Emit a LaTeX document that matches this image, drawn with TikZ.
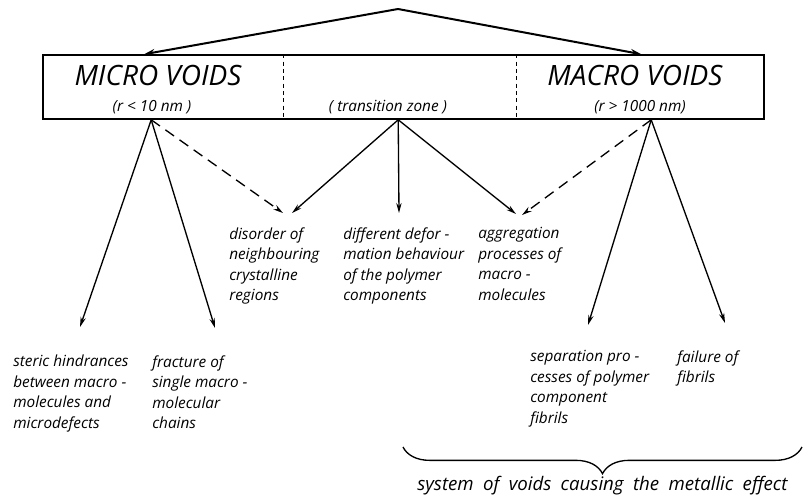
\documentclass[tikz,border=0pt]{standalone}
\usepackage{fontspec}
\setmainfont{Open Sans}
\usepackage{tikz}
\usetikzlibrary{calc}
\usetikzlibrary{arrows.meta}
\usetikzlibrary{decorations.pathreplacing}

\begin{document}
\begin{tikzpicture}[x=0.75pt,y=-0.75pt,
every node/.style={font=\itshape\fontsize{11.5}{15.4}\selectfont},
txt/.style={anchor=north west,align=left,inner sep=0pt},
big/.style={font=\itshape\fontsize{21}{24}\selectfont},
-->/.style={-{Stealth[length=7.5pt,width=4pt]},line width=1pt},
dashed-->/.style={-{Stealth[length=7.5pt,width=4pt]},line width=1pt,dash pattern=on 8pt off 5pt},
toparrow/.style={-{Stealth[length=8pt,width=5pt]},line width=1.5pt},
]
\useasboundingbox (0,0) rectangle (805,500);

\node[draw,line width=1.2pt,minimum width=540.75pt,minimum height=48pt,inner sep=0pt] (box) at (403.5,87) {};
\draw[line width=1pt,dash pattern=on 3pt off 2.5pt] ($(box.north west)+(241,0)$) -- ($(box.south west)+(241,0)$);
\draw[line width=1pt,dash pattern=on 3pt off 2.5pt] ($(box.north west)+(474,0)$) -- ($(box.south west)+(474,0)$);

\node[big] (micro) at (158,75) {MICRO VOIDS};
\node (micror) at (152,107) {(r < 10 nm )};
\node (trans) at (388,107) {( transition zone )};
\node[big] (macro) at (635,75) {MACRO VOIDS};
\node (macror) at (640,107) {(r > 1000 nm)};

\coordinate (top) at (398,9);
\draw[toparrow] (top) -- ($(box.north west)+(102,0)$);
\draw[toparrow] (top) -- ($(box.north west)+(599,0)$);

\coordinate (mi) at ($(box.south west)+(109,0)$);
\coordinate (tr) at ($(box.south west)+(356,0)$);
\coordinate (ma) at ($(box.south west)+(609,0)$);

\node[txt] (dis) at (229,227) {disorder of\\neighbouring\\crystalline\\regions};
\node[txt] (def) at (343,227) {different defor -\\mation behaviour\\of the polymer\\components};
\node[txt] (agg) at (478,227) {aggregation\\processes of\\macro -\\molecules};
\node[txt] (ste) at (13,355) {steric hindrances\\between macro -\\molecules and\\microdefects};
\node[txt] (fra) at (152,355) {fracture of\\single macro -\\molecular\\chains};
\node[txt] (sep) at (530,350) {separation pro -\\cesses of polymer\\component\\fibrils};
\node[txt] (fai) at (677,350) {failure of\\fibrils};

\draw[-->] (mi) -- ($(ste.north west)+(67,-28)$);
\draw[-->] (mi) -- ($(fra.north west)+(63,-27)$);
\draw[dashed-->] (mi) -- ($(dis.north west)+(54,-14)$);

\draw[-->] (tr) -- ($(dis.north west)+(63,-14)$);
\draw[-->] (tr) -- ($(def.north west)+(56,-14)$);
\draw[-->] (tr) -- ($(agg.north west)+(38,-13)$);

\draw[dashed-->] (ma) -- ($(agg.north west)+(44,-12)$);
\draw[-->] (ma) -- ($(sep.north west)+(58,-25)$);
\draw[-->] (ma) -- ($(fai.north west)+(48,-27)$);

\draw[line width=1pt,decorate,decoration={brace,mirror,amplitude=20pt}] (403,447) -- (802,447)
  node[midway,below=18pt,font=\itshape\fontsize{14}{17}\selectfont] (sys) {\spaceskip=7pt\relax system of voids causing the metallic effect};
\end{tikzpicture}
\end{document}
